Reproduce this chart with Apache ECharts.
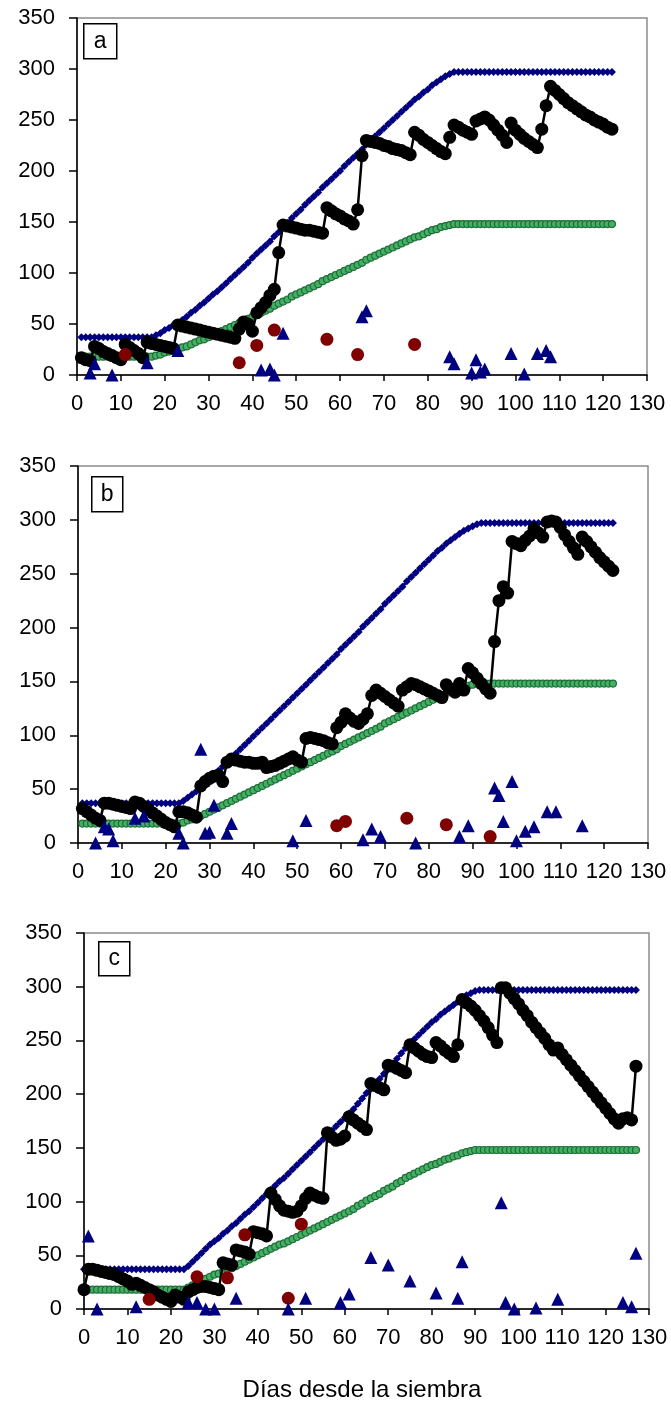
<!DOCTYPE html>
<html><head><meta charset="utf-8">
<script src="https://cdn.jsdelivr.net/npm/echarts/dist/echarts.min.js"></script>
<style>html,body{margin:0;padding:0;background:#fff}#c{width:671px;height:1407px}</style>
</head><body><div id="c"></div><script>
// ---------- DATA ----------
var xTicks = [0,10,20,30,40,50,60,70,80,90,100,110,120,130];
var yTicks = [0,50,100,150,200,250,300,350];
var panelLabels = ['a','b','c'];
var xTitle = 'Días desde la siembra';

// Panel a (days start at 1)
var startA = 1;
var blackA = [17,15,14,28,26,23,21,19,17,15,
30,27,24,21,17,32,31,30,29,28,
27,26,49,48,47,46,45,44,43,42,
41,40,39,38,37,36,45,52,50,43,
61,66,71,78,84,120,147,146,145,144,
143,142,142,141,140,139,164,161,158,156,
153,151,148,162,215,230,229,228,227,225,
224,222,221,220,218,216,238,235,231,228,
225,222,219,217,233,245,243,240,238,236,
249,251,253,250,245,240,235,228,247,240,
236,232,229,226,223,241,264,283,279,275,
271,267,264,261,258,255,253,250,248,246,
243,241];
var blueA = [37,37,37,37,37,37,37,37,37,37,
37,37,37,37,37,37,37,39,41,44,
46,49,51,54,57,61,64,68,71,75,
79,82,86,90,94,98,102,106,110,115,
119,123,127,131,136,140,145,149,154,158,
162,167,171,175,179,184,188,192,196,200,
205,209,213,217,221,226,230,234,238,242,
246,250,254,258,262,266,270,273,277,280,
284,287,290,293,295,297,297,297,297,297,
297,297,297,297,297,297,297,297,297,297,
297,297,297,297,297,297,297,297,297,297,
297,297,297,297,297,297,297,297,297,297,
297,297];
var greenA = [18,18,18,18,18,18,18,18,18,18,
18,18,18,18,18,18,18,19,20,22,
23,24,25,27,28,30,32,34,35,37,
39,41,43,45,47,49,51,53,55,57,
59,61,63,65,68,70,72,74,77,79,
81,83,85,87,89,92,94,96,98,100,
102,104,106,108,110,113,115,117,119,121,
123,125,127,129,131,133,135,136,138,140,
142,143,145,146,147,148,148,148,148,148,
148,148,148,148,148,148,148,148,148,148,
148,148,148,148,148,148,148,148,148,148,
148,148,148,148,148,148,148,148,148,148,
148,148];
var redA = [[11,20],[37,12],[41,29],[45,44],[57,35],[64,20],[77,30]];
var triA = [[3,2],[4,11],[8,0],[16,12],[23,24],[42,5],[44,6],[45,0],[47,41],[65,57],[66,63],
[85,18],[86,11],[90,2],[91,15],[92,3],[93,6],[99,21],[102,1],[105,21],[107,24],[108,18]];

// Panel b (days start at 1)
var startB = 1;
var blackB = [32,29,26,23,21,37,37,36,35,34,
33,32,38,37,34,31,28,25,22,19,
17,15,29,29,28,26,24,53,57,60,
62,63,57,75,78,77,76,75,75,74,
74,75,70,71,72,74,76,78,80,77,
75,97,98,97,96,95,93,92,107,112,
120,116,113,111,115,120,137,142,139,136,
133,130,127,142,145,148,147,145,143,141,
139,137,135,147,143,140,148,142,162,158,
153,148,143,139,187,225,238,232,280,278,
276,281,285,292,288,284,298,299,298,293,
286,280,274,268,284,280,275,270,265,261,
257,253];
var blueB = [37,37,37,37,37,37,37,37,37,37,
37,37,37,37,37,37,37,37,37,37,
37,37,37,39,42,45,48,51,55,59,
63,67,71,75,79,83,87,91,95,99,
103,107,111,115,119,123,127,131,135,139,
143,147,151,155,159,163,167,171,175,180,
184,188,192,196,201,205,209,213,217,222,
226,230,234,238,243,247,251,255,259,263,
267,271,274,278,281,284,287,290,292,294,
296,297,297,297,297,297,297,297,297,297,
297,297,297,297,297,297,297,297,297,297,
297,297,297,297,297,297,297,297,297,297,
297,297];
var greenB = [18,18,18,18,18,18,18,18,18,18,
18,18,18,18,18,18,18,18,18,18,
18,18,18,19,21,22,24,25,27,29,
31,33,35,37,39,41,43,45,47,49,
51,53,55,57,59,61,63,65,67,69,
71,73,75,77,79,81,83,85,87,90,
92,94,96,98,100,102,104,106,108,111,
113,115,117,119,121,123,125,127,129,131,
133,135,137,139,140,142,143,145,146,147,
148,148,148,148,148,148,148,148,148,148,
148,148,148,148,148,148,148,148,148,148,
148,148,148,148,148,148,148,148,148,148,
148,148];
var redB = [[59,16],[61,20],[75,23],[84,17],[94,6]];
var triB = [[4,0],[6,15],[7,13],[8,2],[13,23],[15,25],[23,9],[24,0],[28,87],[29,9],[30,10],[31,35],
[34,9],[35,18],[49,2],[52,21],[65,3],[67,13],[69,6],[77,0],[87,6],[89,16],[95,51],[96,44],
[97,20],[99,57],[100,2],[102,11],[104,15],[107,29],[109,29],[115,16]];

// Panel c (days start at 0)
var startC = 0;
var blackC = [18,37,37,36,35,34,33,32,30,28,
26,23,24,22,20,18,16,13,11,9,
7,13,11,9,16,18,20,21,21,20,
19,18,43,42,41,55,54,53,51,72,
71,70,68,108,102,96,92,91,90,91,
96,103,108,106,104,103,164,160,157,158,
161,179,176,173,170,167,210,208,206,204,
227,226,224,222,220,246,243,240,237,235,
234,248,245,241,238,235,246,288,285,282,
278,273,268,262,255,248,299,299,294,289,
284,278,273,267,262,257,252,246,241,243,
237,232,227,222,217,212,207,202,197,192,
187,182,177,173,177,178,176,226];
var blueC = [37,37,37,37,37,37,37,37,37,37,
37,37,37,37,37,37,37,37,37,37,
37,37,37,37,40,44,48,52,56,60,
63,66,70,73,77,80,84,88,91,95,
99,103,107,111,115,119,122,126,130,134,
138,142,146,150,154,158,162,166,170,174,
178,182,186,191,196,201,205,210,214,219,
223,228,233,238,243,247,251,255,259,263,
267,270,274,277,280,283,286,289,292,294,
296,297,297,297,297,297,297,297,297,297,
297,297,297,297,297,297,297,297,297,297,
297,297,297,297,297,297,297,297,297,297,
297,297,297,297,297,297,297,297];
var greenC = [18,18,18,18,18,18,18,18,18,18,
18,18,18,18,18,18,18,18,18,18,
18,18,18,18,20,22,24,26,28,30,
32,33,35,37,38,40,42,44,46,48,
50,52,54,56,58,60,61,63,65,67,
69,71,73,75,77,79,81,83,85,87,
89,91,93,96,98,101,103,105,107,110,
112,114,117,119,122,124,126,128,130,132,
134,135,137,139,140,142,143,145,146,147,
148,148,148,148,148,148,148,148,148,148,
148,148,148,148,148,148,148,148,148,148,
148,148,148,148,148,148,148,148,148,148,
148,148,148,148,148,148,148,148];
var redC = [[15,9],[26,30],[33,29],[37,69],[47,10],[50,79]];
var triC = [[1,68],[3,0],[12,2],[24,6],[26,6],[28,0],[30,0],[35,10],[47,0],[51,10],[59,6],[61,14],
[66,48],[70,41],[75,26],[81,15],[86,10],[87,44],[96,99],[97,6],[99,0],[104,1],[109,9],[124,6],[126,2],[127,52]];

// ---------- CHART ----------
function seq(start, vals){ return vals.map(function(v,i){ return [start+i, v]; }); }
var FONT = '"Liberation Sans", Arial, sans-serif';
var grids = [
  {left:77, top:18, width:570, height:357},
  {left:78, top:466, width:570, height:377},
  {left:84, top:933, width:565, height:376}
];
var boxes = [[83,23,33,35],[91,476,31,35],[98,941,31,34]];
var panels = [
  {start:startA, black:blackA, blue:blueA, green:greenA, red:redA, tri:triA},
  {start:startB, black:blackB, blue:blueB, green:greenB, red:redB, tri:triB},
  {start:startC, black:blackC, blue:blueC, green:greenC, red:redC, tri:triC}
];
var option = {animation:false, backgroundColor:'#fff', grid:[], xAxis:[], yAxis:[], series:[], graphic:[]};
grids.forEach(function(g, p){
  option.grid.push({left:g.left, top:g.top, width:g.width, height:g.height, show:true,
    borderColor:'#8c8c8c', borderWidth:1.5, backgroundColor:'transparent'});
  option.xAxis.push({type:'value', gridIndex:p, min:xTicks[0], max:xTicks[xTicks.length-1], interval:10,
    axisLine:{show:true, onZero:false, lineStyle:{color:'#000', width:1.5}},
    axisTick:{show:true, inside:false, length:6, lineStyle:{color:'#000', width:1.5}},
    axisLabel:{fontFamily:FONT, fontSize:22, color:'#000', margin:18},
    splitLine:{show:false}});
  option.yAxis.push({type:'value', gridIndex:p, min:yTicks[0], max:yTicks[yTicks.length-1], interval:50,
    axisLine:{show:true, onZero:false, lineStyle:{color:'#000', width:1.5}},
    axisTick:{show:true, inside:false, length:8, lineStyle:{color:'#000', width:1.5}},
    axisLabel:{fontFamily:FONT, fontSize:22, color:'#000', margin:22},
    splitLine:{show:false}});
  var d = panels[p];
  option.series.push({type:'line', xAxisIndex:p, yAxisIndex:p, data:seq(d.start, d.blue), clip:false,
    symbol:'diamond', symbolSize:8, itemStyle:{color:'#000080', opacity:1}, lineStyle:{color:'#000080', width:3}, z:2});
  option.series.push({type:'line', xAxisIndex:p, yAxisIndex:p, data:seq(d.start, d.green), clip:false,
    symbol:'circle', symbolSize:7, itemStyle:{color:'#45b065', borderColor:'#1c6e36', borderWidth:1.2, opacity:1},
    lineStyle:{color:'#45b065', width:3}, z:3});
  option.series.push({type:'line', xAxisIndex:p, yAxisIndex:p, data:seq(d.start, d.black), clip:false,
    symbol:'circle', symbolSize:13, itemStyle:{color:'#000', opacity:1}, lineStyle:{color:'#000', width:2.5}, z:4});
  option.series.push({type:'scatter', xAxisIndex:p, yAxisIndex:p, data:d.red, clip:false,
    symbol:'circle', symbolSize:13, itemStyle:{color:'#800000', opacity:1}, z:5});
  option.series.push({type:'scatter', xAxisIndex:p, yAxisIndex:p, data:d.tri, clip:false,
    symbol:'triangle', symbolSize:13, itemStyle:{color:'#000080', opacity:1}, z:6});
  var b = boxes[p];
  option.graphic.push({type:'group', left:b[0], top:b[1], z:100, children:[
    {type:'rect', shape:{x:0, y:0, width:b[2], height:b[3]}, style:{fill:'#fff', stroke:'#000', lineWidth:1.5}},
    {type:'text', x:b[2]/2, y:b[3]/2, style:{text:panelLabels[p], font:'23px ' + FONT, fill:'#000',
      align:'center', verticalAlign:'middle', textAlign:'center', textVerticalAlign:'middle'}}
  ]});
});
option.graphic.push({type:'text', x:362, y:1390, z:100,
  style:{text:xTitle, font:'24px ' + FONT, fill:'#000', align:'center', verticalAlign:'middle',
    textAlign:'center', textVerticalAlign:'middle'}});
var chart = echarts.init(document.getElementById('c'), null, {renderer:'canvas'});
chart.setOption(option);
</script></body></html>
